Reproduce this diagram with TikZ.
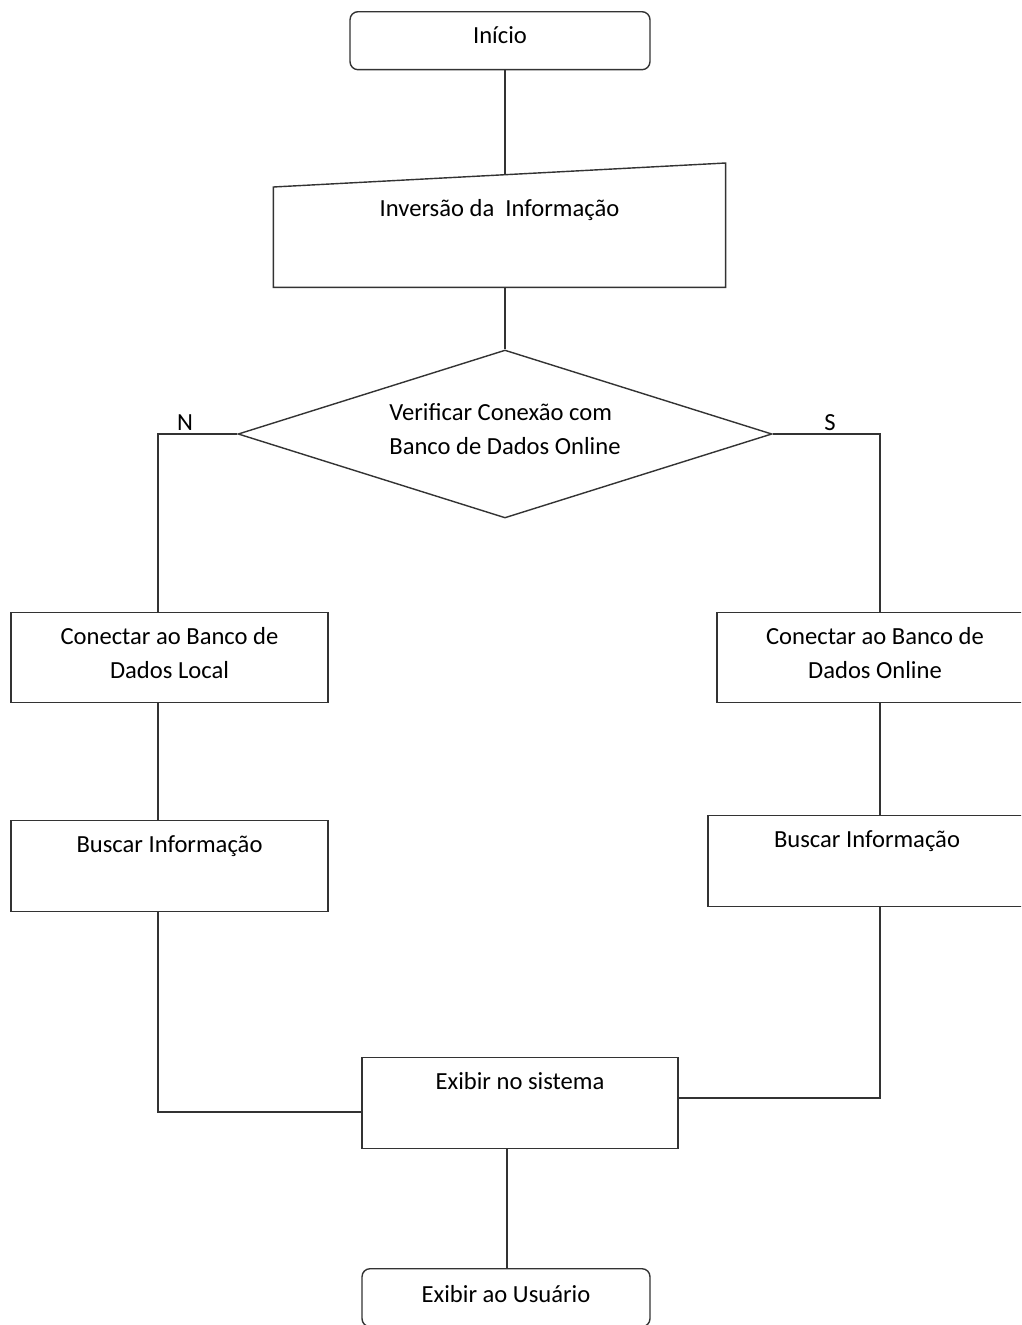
\documentclass[tikz,border=0pt]{standalone}
\usepackage{fontspec}
\setmainfont{Carlito}
\usetikzlibrary{shapes.geometric}

\tikzset{
  line/.style={draw=black!80, line width=0.8pt},
  box/.style={rectangle, line, inner sep=0pt, align=center},
  roundbox/.style={box, anchor=north, rounded corners=0.16cm},
  topbox/.style={box, anchor=north, text height=0.64cm, text depth=1.18cm},
  twobox/.style={box, anchor=north, text height=1.32cm, text depth=0.48cm},
  decision/.style={diamond, line, aspect=3.2, inner sep=0pt,
    minimum width=10.68cm, minimum height=3.36cm, align=left,
    text height=1.02cm, text depth=0.2cm},
}

\begin{document}
\begin{tikzpicture}[x=0.02cm, y=-0.02cm, font=\fontsize{14}{19.3}\selectfont]
\clip (0,0) rectangle (1021,1325);

\node[roundbox, minimum width=6cm, text height=0.64cm, text depth=0.52cm] (start) at (500,11) {Início};

% manual input
\node[box, draw=none, anchor=north, minimum width=9.02cm, text height=0.58cm, text depth=1.4cm] (inv) at (499.5,187) {Inversão da\ \ Informação};
\draw[line] (inv.south west) -- (inv.south east) -- ([yshift=0.48cm]inv.north east) -- (inv.north west) -- cycle;
\coordinate (invtop) at (505,175);

\node[decision] (dia) at (505,434) {Verificar Conexão com\\Banco de Dados Online};
\coordinate (nl) at (158,434);
\coordinate (sr) at (880,434);
\node at (185,423) {N};
\node at (830,423) {S};

\node[twobox, minimum width=6.34cm] (left1) at (169.5,612) {Conectar ao Banco de\\Dados Local};
\node[topbox, minimum width=6.34cm] (left2) at (169.5,820) {Buscar Informação};

\node[twobox, minimum width=6.32cm] (right1) at (875,612) {Conectar ao Banco de\\Dados Online};
\node[topbox, minimum width=6.36cm] (right2) at (867,815) {Buscar Informação};

\node[topbox, minimum width=6.32cm] (sys) at (520,1057) {Exibir no sistema};
\coordinate (jl) at (158,1112);
\coordinate (jr) at (880,1098);

\node[roundbox, minimum width=5.76cm, text height=0.67cm, text depth=0.49cm] (end) at (506,1268) {Exibir ao Usuário};

% connectors
\draw[line] (start.south -| invtop) -- (invtop);
\draw[line] (inv.south -| invtop) -- (invtop |- dia.north);
\draw[line] (dia.west) -- (nl) -- (nl |- left1.north);
\draw[line] (dia.east) -- (sr) -- (sr |- right1.north);
\draw[line] (left1.south -| nl) -- (left2.north -| nl);
\draw[line] (right1.south -| sr) -- (right2.north -| sr);
\draw[line] (left2.south -| jl) -- (jl) -- (jl -| sys.west);
\draw[line] (right2.south -| jr) -- (jr) -- (jr -| sys.east);
\draw[line] (sys.south -| end.north) ++(1,0) coordinate (sysb) -- (sysb |- end.north);
\end{tikzpicture}
\end{document}
